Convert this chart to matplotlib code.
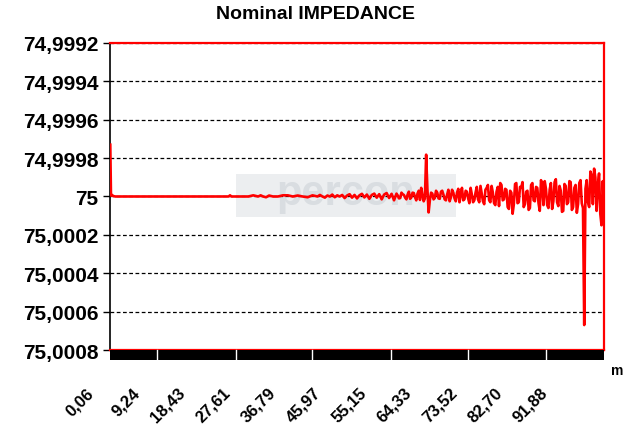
import numpy as np
import matplotlib
matplotlib.use("Agg")
from matplotlib import pyplot as plt
from matplotlib.patches import Rectangle
from matplotlib.ticker import FuncFormatter
from matplotlib.transforms import ScaledTranslation

# distance along the cable (m) and deviation from 75 Ohm (micro-Ohm)
dist_start = [0.06, 0.2, 0.4, 0.7, 1.1, 2, 5, 10, 15, 20, 24.0, 24.3, 24.6, 27]
dev_start = [-270, -5, -8, -2, 0, 0, 0, 0, 0, 0, 0, -6, 0, 0]

dist_mid = [28, 29, 30, 30.5, 31, 31.6, 32.2, 33, 34, 35,
            36, 37, 38, 39, 40, 41, 42, 42.5, 43, 43.5,
            44, 44.5, 45, 45.5, 46, 46.5, 47, 47.5, 48, 48.5,
            49, 49.5, 50, 50.5, 51, 51.5, 52, 52.5, 53, 53.5,
            54, 54.5, 55, 55.5, 56, 56.5, 57, 57.5]
dev_mid = [0, -6, 0, -6, 0, 4, -5, 0, 0, -6,
           -6, 0, -5, 0, 4, -6, 0, -8, 0, 6,
           -5, 0, -10, 4, -6, 0, -8, 8, -5, -12,
           6, -8, 10, -6, -14, 5, -10, 12, -8, -15,
           6, -12, 15, -10, -18, 8, -14, 20]

dist_end = [58.0, 58.5, 59.0, 59.5, 60.0, 60.5, 61.0, 61.5, 62.0, 62.5,
            63.0, 63.5, 64.0, 64.5, 65.0, 65.5, 66.0, 66.5, 67.0, 67.5,
            68.0, 68.5, 69.0, 69.5, 70.0, 70.5, 71.0, 71.5, 72.0, 72.5,
            73.0, 73.5, 74.0, 74.5, 75.0, 75.5, 76.0, 76.5, 77.0, 77.5,
            78.0, 78.5, 79.0, 79.5, 80.0, 80.5, 81.0, 81.5, 82.0, 82.5,
            83.0, 83.5, 84.0, 84.5, 85.0, 85.5, 86.0, 86.5, 87.0, 87.5,
            88.0, 88.5, 89.0, 89.5, 90.0, 90.5, 91.0, 91.5, 92.0, 92.5,
            93.0, 93.5, 94.0, 94.5, 95.0, 95.5, 96.0, 96.5, 97.0, 97.5,
            98.0, 98.5, 99.0, 99.5, 100.0]
dev_end = [-15, 10, -20, -8, 15, -25, 5, -18, 20, -30,
           -45, 25, -218, 83, -20, 15, -30, 10, -25, -10,
           20, -35, 5, -20, 25, -40, -15, 20, -30, 10,
           -45, 30, -20, 15, -55, 25, -35, -60, 30, -20,
           45, -50, -70, 20, -40, 55, -30, 90, -65, 35,
           -50, -75, 40, -30, 60, -70, 25, -45, 75, -60,
           -80, 45, -35, 65, -75, 30, -55, 80, -65, 40,
           -80, 70, -45, 85, -70, 35, 670, -85, 55, -110,
           -145, 75, -120, 150, 60]

# in-between samples of the noisy part
dist_q = [58.25, 58.75, 59.25, 59.75, 60.25, 60.75, 61.25, 61.75, 62.25, 62.75, 63.25, 63.75,
          64.25, 64.75, 65.25, 65.75, 66.25, 66.75, 67.25, 67.75, 68.25, 68.75, 69.25, 69.75,
          70.25, 70.75, 71.25, 71.75, 72.25, 72.75, 73.25, 73.75, 74.25, 74.75, 75.25, 75.75,
          76.25, 76.75, 77.25, 77.75, 78.25, 78.75, 79.25, 79.75, 80.25, 80.75, 81.25, 81.75,
          82.25, 82.75, 83.25, 83.75, 84.25, 84.75, 85.25, 85.75, 86.25, 86.75, 87.25, 87.75,
          88.25, 88.75, 89.25, 89.75, 90.25, 90.75, 91.25, 91.75, 92.25, 92.75, 93.25, 93.75,
          94.25, 94.75, 95.25, 95.75, 96.25, 96.75, 97.25, 97.75, 98.25, 98.75, 99.25, 99.75]
dev_q = [-5, 8, -12, 6, -10, 12, -20, 4, -15, 18, -8, 10,
         -40, 20, -15, 8, -20, 12, -30, 15, -10, 25, -35, 10,
         -20, 30, -45, 15, -25, 35, -10, 20, -50, 30, -15, 40,
         -45, 20, -55, 35, -25, 50, -60, 15, -35, 65, -20, 40,
         -70, 30, -45, 55, -25, 70, -60, 20, -50, 35, -85, 45,
         -40, 60, -70, 25, -90, 50, -30, 75, -55, 30, -75, 55,
         -60, 40, -85, 60, -40, 30, -130, 40, -100, -60, 90, -80]

xtick_pos = [0.06, 9.24, 18.43, 27.61, 36.79, 45.97, 55.15, 64.33, 73.52, 82.70, 91.88]
xtick_lab = ["0,06", "9,24", "18,43", "27,61", "36,79", "45,97", "55,15", "64,33", "73,52", "82,70", "91,88"]
ytick_pos = [74.9992, 74.9994, 74.9996, 74.9998, 75.0, 75.0002, 75.0004, 75.0006, 75.0008]
band_gaps = [9.5, 25.5, 40.9, 56.9, 72.5, 88.3]

dist = np.array(dist_start + dist_mid + dist_end + dist_q)
dev = np.array(dev_start + dev_mid + dev_end + dev_q)
order = np.argsort(dist)
dist = dist[order]
imp = 75 + dev[order] * 1e-6

plt.rcParams['font.family'] = ['Liberation Sans', 'DejaVu Sans']

fig = plt.figure(figsize=(6.31, 4.35), dpi=100)
ax = fig.add_axes([0.1743, 0.1931, 0.7829, 0.7058])

# faint logo in the background
ax.add_patch(Rectangle((0.256, 0.433), 0.445, 0.14, transform=ax.transAxes,
                       facecolor='#eceef0', edgecolor='none', zorder=0))
ax.text(0.478, 0.51, "percon", transform=ax.transAxes, ha='center', va='center',
        fontsize=30, fontweight='bold', color='#d9dde1', zorder=0)

ax.plot(dist, imp, color='#ff0000', linewidth=1.9, zorder=3)

ax.set_xlim(0, 100)
ax.set_ylim(75.0008, 74.9992)
ax.set_yticks(ytick_pos)
ax.yaxis.set_major_formatter(FuncFormatter(
    lambda v, p: ('%.4f' % v).rstrip('0').rstrip('.').replace('.', ',')))
ax.grid(axis='y', color='black', linestyle=(0, (3, 2)), linewidth=0.9, zorder=1)
ax.set_axisbelow(True)

ax.set_xticks(xtick_pos)
ax.set_xticklabels(xtick_lab, rotation=45, ha='right', rotation_mode='anchor',
                   fontsize=12, fontweight='bold')
ax.tick_params(axis='x', length=0, pad=25)
shift = ScaledTranslation(-0.24, 0, fig.dpi_scale_trans)
for t in ax.get_xticklabels():
    t.set_transform(t.get_transform() + shift)
ax.tick_params(axis='y', length=5, width=1, labelsize=15, direction='out')
for t in ax.get_yticklabels():
    t.set_fontweight('bold')

for s in ['top', 'right', 'bottom']:
    ax.spines[s].set_color('#ff0000')
    ax.spines[s].set_linewidth(1.6)
ax.spines['left'].set_color('black')
ax.spines['left'].set_linewidth(1.2)

# dense category ticks drawn as a black band under the axis
bh = 10 / 307
ax.add_patch(Rectangle((0, -bh), 1, bh, transform=ax.transAxes, facecolor='black',
                       edgecolor='none', clip_on=False, zorder=4))
for g in band_gaps:
    ax.plot([g, g], [0, -bh], transform=ax.get_xaxis_transform(), color='white',
            linewidth=1, clip_on=False, zorder=5)

ax.text(1.015, -0.065, "m", transform=ax.transAxes, fontsize=10, fontweight='bold',
        ha='left', va='center')
fig.text(0.5, 0.967, "Nominal IMPEDANCE", ha='center', va='center', fontsize=14,
         fontweight='bold')

fig.savefig("out.png", dpi=100)
